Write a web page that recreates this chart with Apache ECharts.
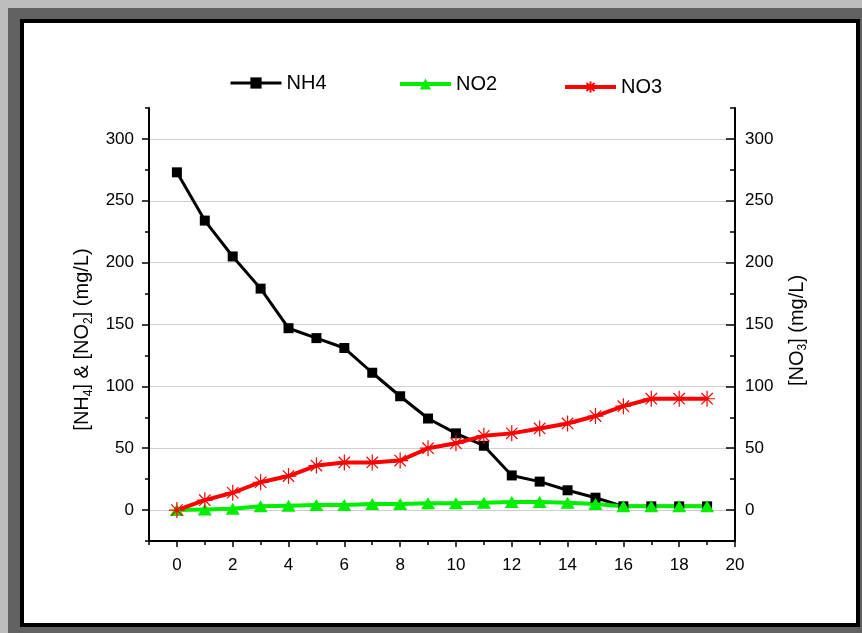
<!DOCTYPE html>
<html>
<head>
<meta charset="utf-8">
<script src="https://cdn.jsdelivr.net/npm/echarts@6.0.0/dist/echarts.min.js"></script>
<style>
  html, body { margin: 0; padding: 0; width: 862px; height: 633px; overflow: hidden; background: #bdbdbd; }
  .shadow { position: absolute; left: 8px; top: 8px; width: 854px; height: 625px; background: #626262; }
  .frame { position: absolute; left: 20px; top: 19px; width: 832px; height: 600px; background: #fff; border: 4px solid #000; }
  #chart { position: absolute; left: 0; top: 0; width: 862px; height: 633px; }
</style>
</head>
<body>
<div class="shadow"></div>
<div class="frame"></div>
<div id="chart"></div>
<script>
const time = [0, 1, 2, 3, 4, 5, 6, 7, 8, 9, 10, 11, 12, 13, 14, 15, 16, 17, 18, 19];
const nh4 = [273, 234, 205, 179, 147, 139, 131, 111, 92, 74, 62, 52, 28, 23, 16, 10, 3, 3, 3, 3];
const no2 = [0, 0.5, 1, 3, 3.5, 4, 4, 5, 5, 5.5, 5.5, 6, 6.5, 6.5, 6, 5, 3, 3, 3, 3];
const no3 = [0, 8, 14, 22.5, 27.5, 36, 38.5, 38.5, 40, 50, 54, 60, 62, 66, 70, 76, 84, 90, 90, 90];

const xTicks = [0, 2, 4, 6, 8, 10, 12, 14, 16, 18, 20];
const yTicks = [0, 50, 100, 150, 200, 250, 300];

const font = "'Liberation Sans', Arial, sans-serif";
const asterisk = 'path://M10 0 L10 20 M0 10 L20 10 M2.9 2.9 L17.1 17.1 M2.9 17.1 L17.1 2.9';

function pairs(ys) {
  return time.map((t, i) => [t, ys[i]]);
}

const nameRich = {
  s: { fontSize: 12, lineHeight: 12, fontFamily: font, color: '#000', verticalAlign: 'bottom' }
};

// main axes carry labels, gridlines and long ticks; overlays add the short minor ticks
function mainY(position, tickInside, tickLen, labelMargin, name, nameGap, namePad) {
  return {
    type: 'value', position: position, min: -25, max: 325,
    axisLine: { show: true, onZero: false, lineStyle: { color: '#000', width: 2 } },
    axisTick: { show: true, inside: tickInside, length: tickLen, customValues: yTicks, lineStyle: { color: '#000', width: 1.5 } },
    axisLabel: { customValues: yTicks, margin: labelMargin, fontSize: 17, fontFamily: font, color: '#000' },
    splitLine: { show: position === 'left', lineStyle: { color: '#cfcfcf', width: 1 } },
    name: name, nameLocation: 'middle', nameRotate: 90, nameGap: nameGap,
    nameTextStyle: { fontSize: 20, lineHeight: 24, fontFamily: font, color: '#000', rich: nameRich, padding: namePad }
  };
}

function minorY(position, tickInside, tickLen) {
  return {
    type: 'value', position: position, min: -25, max: 325, interval: 25,
    axisLine: { show: false, onZero: false },
    axisTick: { show: true, inside: tickInside, length: tickLen, lineStyle: { color: '#000', width: 1.5 } },
    axisLabel: { show: false },
    splitLine: { show: false }
  };
}

const option = {
  animation: false,
  grid: { left: 149, right: 127, top: 108, bottom: 92 },
  legend: [
    { data: ['NH4'], left: 224, top: 68, lineStyle: { width: 3 } },
    { data: ['NO2'], left: 393, top: 69, lineStyle: { width: 4 } },
    { data: ['NO3'], left: 558, top: 72, lineStyle: { width: 4 } }
  ].map(l => Object.assign(l, {
    itemWidth: 51, itemHeight: 14, selectedMode: false,
    textStyle: { fontSize: 20, fontFamily: font, color: '#000' }
  })),
  xAxis: [
    {
      type: 'value', position: 'bottom', min: -1, max: 20,
      axisLine: { show: true, onZero: false, lineStyle: { color: '#000', width: 2 } },
      axisTick: { show: true, length: 6, customValues: xTicks, lineStyle: { color: '#000', width: 1.5 } },
      axisLabel: { customValues: xTicks, margin: 16, fontSize: 17, fontFamily: font, color: '#000' },
      splitLine: { show: false }
    },
    {
      type: 'value', position: 'bottom', min: -1, max: 20, interval: 1,
      axisLine: { show: false, onZero: false },
      axisTick: { show: true, length: 4, lineStyle: { color: '#000', width: 1.5 } },
      axisLabel: { show: false },
      splitLine: { show: false }
    }
  ],
  yAxis: [
    mainY('left', false, 7, 15, '[NH{s|4}] & [NO{s|2}] (mg/L)', 52, [0, 30, 0, 0]),
    mainY('right', true, 9, 10, '[NO{s|3}] (mg/L)', 50, [0, 12, 0, 0]),
    minorY('left', false, 4),
    minorY('right', true, 5)
  ],
  series: [
    {
      name: 'NH4', type: 'line', xAxisIndex: 0, yAxisIndex: 0,
      data: pairs(nh4),
      symbol: 'rect', symbolSize: 10,
      lineStyle: { color: '#000', width: 3 },
      itemStyle: { color: '#000' }
    },
    {
      name: 'NO2', type: 'line', xAxisIndex: 0, yAxisIndex: 0,
      data: pairs(no2),
      symbol: 'triangle', symbolSize: [14, 12],
      lineStyle: { color: '#00ee00', width: 4 },
      itemStyle: { color: '#00ee00' }
    },
    {
      name: 'NO3', type: 'line', xAxisIndex: 0, yAxisIndex: 1,
      data: pairs(no3),
      symbol: asterisk, symbolSize: 16,
      lineStyle: { color: '#ff0000', width: 4 },
      itemStyle: { color: 'transparent', borderColor: '#ff0000', borderWidth: 1.2 }
    }
  ]
};

const chart = echarts.init(document.getElementById('chart'));
chart.setOption(option);
</script>
</body>
</html>
